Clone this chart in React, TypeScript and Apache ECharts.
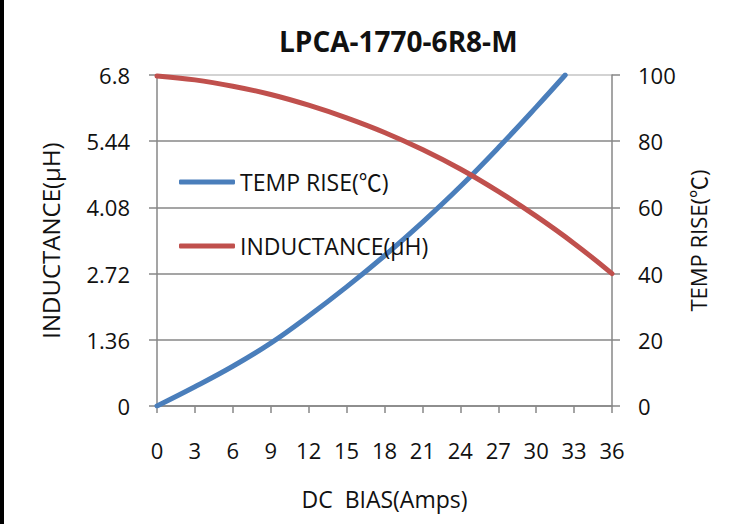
import React, { useEffect, useRef } from "react";
import * as echarts from "echarts";

const titleText = "LPCA-1770-6R8-M";
const xAxisName = "DC  BIAS(Amps)";
const leftAxisName = "INDUCTANCE(μH)";
const rightAxisName = "TEMP RISE(℃)";
const seriesNames = ["TEMP RISE(℃)", "INDUCTANCE(μH)"];

// DC bias (A) vs temperature rise (°C)
const tempX = [0, 3, 6, 9, 12, 15, 18, 21, 24, 27, 30, 32.3];
const tempY = [0, 5.8, 12, 19, 27.2, 36, 45.4, 55.5, 66.3, 78, 90.3, 100];

// DC bias (A) vs inductance (µH)
const indX = [0, 3, 6, 9, 12, 15, 18, 21, 24, 27, 30, 33, 36];
const indY = [6.78, 6.7, 6.57, 6.4, 6.18, 5.92, 5.62, 5.27, 4.87, 4.41, 3.9, 3.34, 2.72];

const xTicks = { min: 0, max: 36, interval: 3 };
const leftTicks = { min: 0, max: 6.8, interval: 1.36 };
const rightTicks = { min: 0, max: 100, interval: 20 };

const FONT = "'Open Sans', 'Noto Sans CJK SC', sans-serif";
const GRAY = "#878787";

export default function App() {
  const ref = useRef<HTMLDivElement>(null);
  useEffect(() => {
    document.body.style.margin = "0";
    if (!ref.current) return;
    const chart = echarts.init(ref.current, null, { renderer: "svg" });
    const zip = (xs: number[], ys: number[]) => xs.map((x, i) => [x, ys[i]]);
    chart.setOption({
      animation: false,
      backgroundColor: "#ffffff",
      textStyle: { fontFamily: FONT },
      title: {
        text: titleText,
        left: 270,
        top: 22,
        textStyle: { fontFamily: FONT, fontWeight: "bold", fontSize: 28, color: "#111" },
      },
      legend: {
        orient: "vertical",
        left: 170,
        top: 163,
        itemWidth: 56,
        itemHeight: 5,
        itemGap: 36,
        icon: "roundRect",
        textStyle: { fontFamily: FONT, fontSize: 23, lineHeight: 28, color: "#111" },
        data: seriesNames,
      },
      grid: { left: 153, right: 120, top: 75, bottom: 118, containLabel: false },
      xAxis: {
        type: "value",
        min: xTicks.min,
        max: xTicks.max,
        interval: xTicks.interval,
        name: xAxisName,
        nameLocation: "middle",
        nameGap: 81,
        nameTextStyle: { fontFamily: FONT, fontSize: 23, color: "#111" },
        axisLine: { show: true, lineStyle: { color: GRAY, width: 1.5 } },
        axisTick: { show: true, length: 7, lineStyle: { color: GRAY, width: 1.5 } },
        axisLabel: { margin: 33, fontSize: 22, color: "#111", fontFamily: FONT },
        splitLine: { show: false },
      },
      yAxis: [
        {
          type: "value",
          min: leftTicks.min,
          max: leftTicks.max,
          interval: leftTicks.interval,
          name: leftAxisName,
          nameLocation: "middle",
          nameGap: 95,
          nameTextStyle: { fontFamily: FONT, fontSize: 24, color: "#111" },
          axisLine: { show: true, lineStyle: { color: GRAY, width: 1.5 } },
          axisTick: { show: true, length: 8, lineStyle: { color: GRAY, width: 1.5 } },
          axisLabel: {
            margin: 27,
            fontSize: 22,
            color: "#111",
            fontFamily: FONT,
            formatter: (v: number) => String(Math.round(v * 100) / 100),
          },
          splitLine: {
            show: true,
            lineStyle: { color: [GRAY, GRAY, GRAY, GRAY, GRAY, "#c4c4c4"], width: 1.5 },
          },
        },
        {
          type: "value",
          min: rightTicks.min,
          max: rightTicks.max,
          interval: rightTicks.interval,
          position: "right",
          name: rightAxisName,
          nameLocation: "middle",
          nameGap: 71,
          nameTextStyle: { fontFamily: FONT, fontSize: 22, color: "#111" },
          axisLine: { show: true, lineStyle: { color: GRAY, width: 1.5 } },
          axisTick: { show: true, length: 8, lineStyle: { color: GRAY, width: 1.5 } },
          axisLabel: { margin: 26, fontSize: 22, color: "#111", fontFamily: FONT },
          splitLine: { show: false },
        },
      ],
      series: [
        {
          name: seriesNames[0],
          type: "line",
          yAxisIndex: 1,
          data: zip(tempX, tempY),
          smooth: 0.4,
          symbol: "none",
          color: "#4a7ebb",
          lineStyle: { width: 5, color: "#4a7ebb", cap: "round" },
        },
        {
          name: seriesNames[1],
          type: "line",
          yAxisIndex: 0,
          data: zip(indX, indY),
          smooth: 0.4,
          symbol: "none",
          color: "#c0504d",
          lineStyle: { width: 5, color: "#c0504d", cap: "round" },
        },
      ],
    });
    return () => chart.dispose();
  }, []);
  return (
    <div
      style={{
        position: "fixed",
        left: 0,
        top: 0,
        width: 732,
        height: 524,
        boxSizing: "border-box",
        borderLeft: "4px solid #000",
        background: "#fff",
      }}
    >
      <div ref={ref} style={{ width: 728, height: 524 }} />
    </div>
  );
}
